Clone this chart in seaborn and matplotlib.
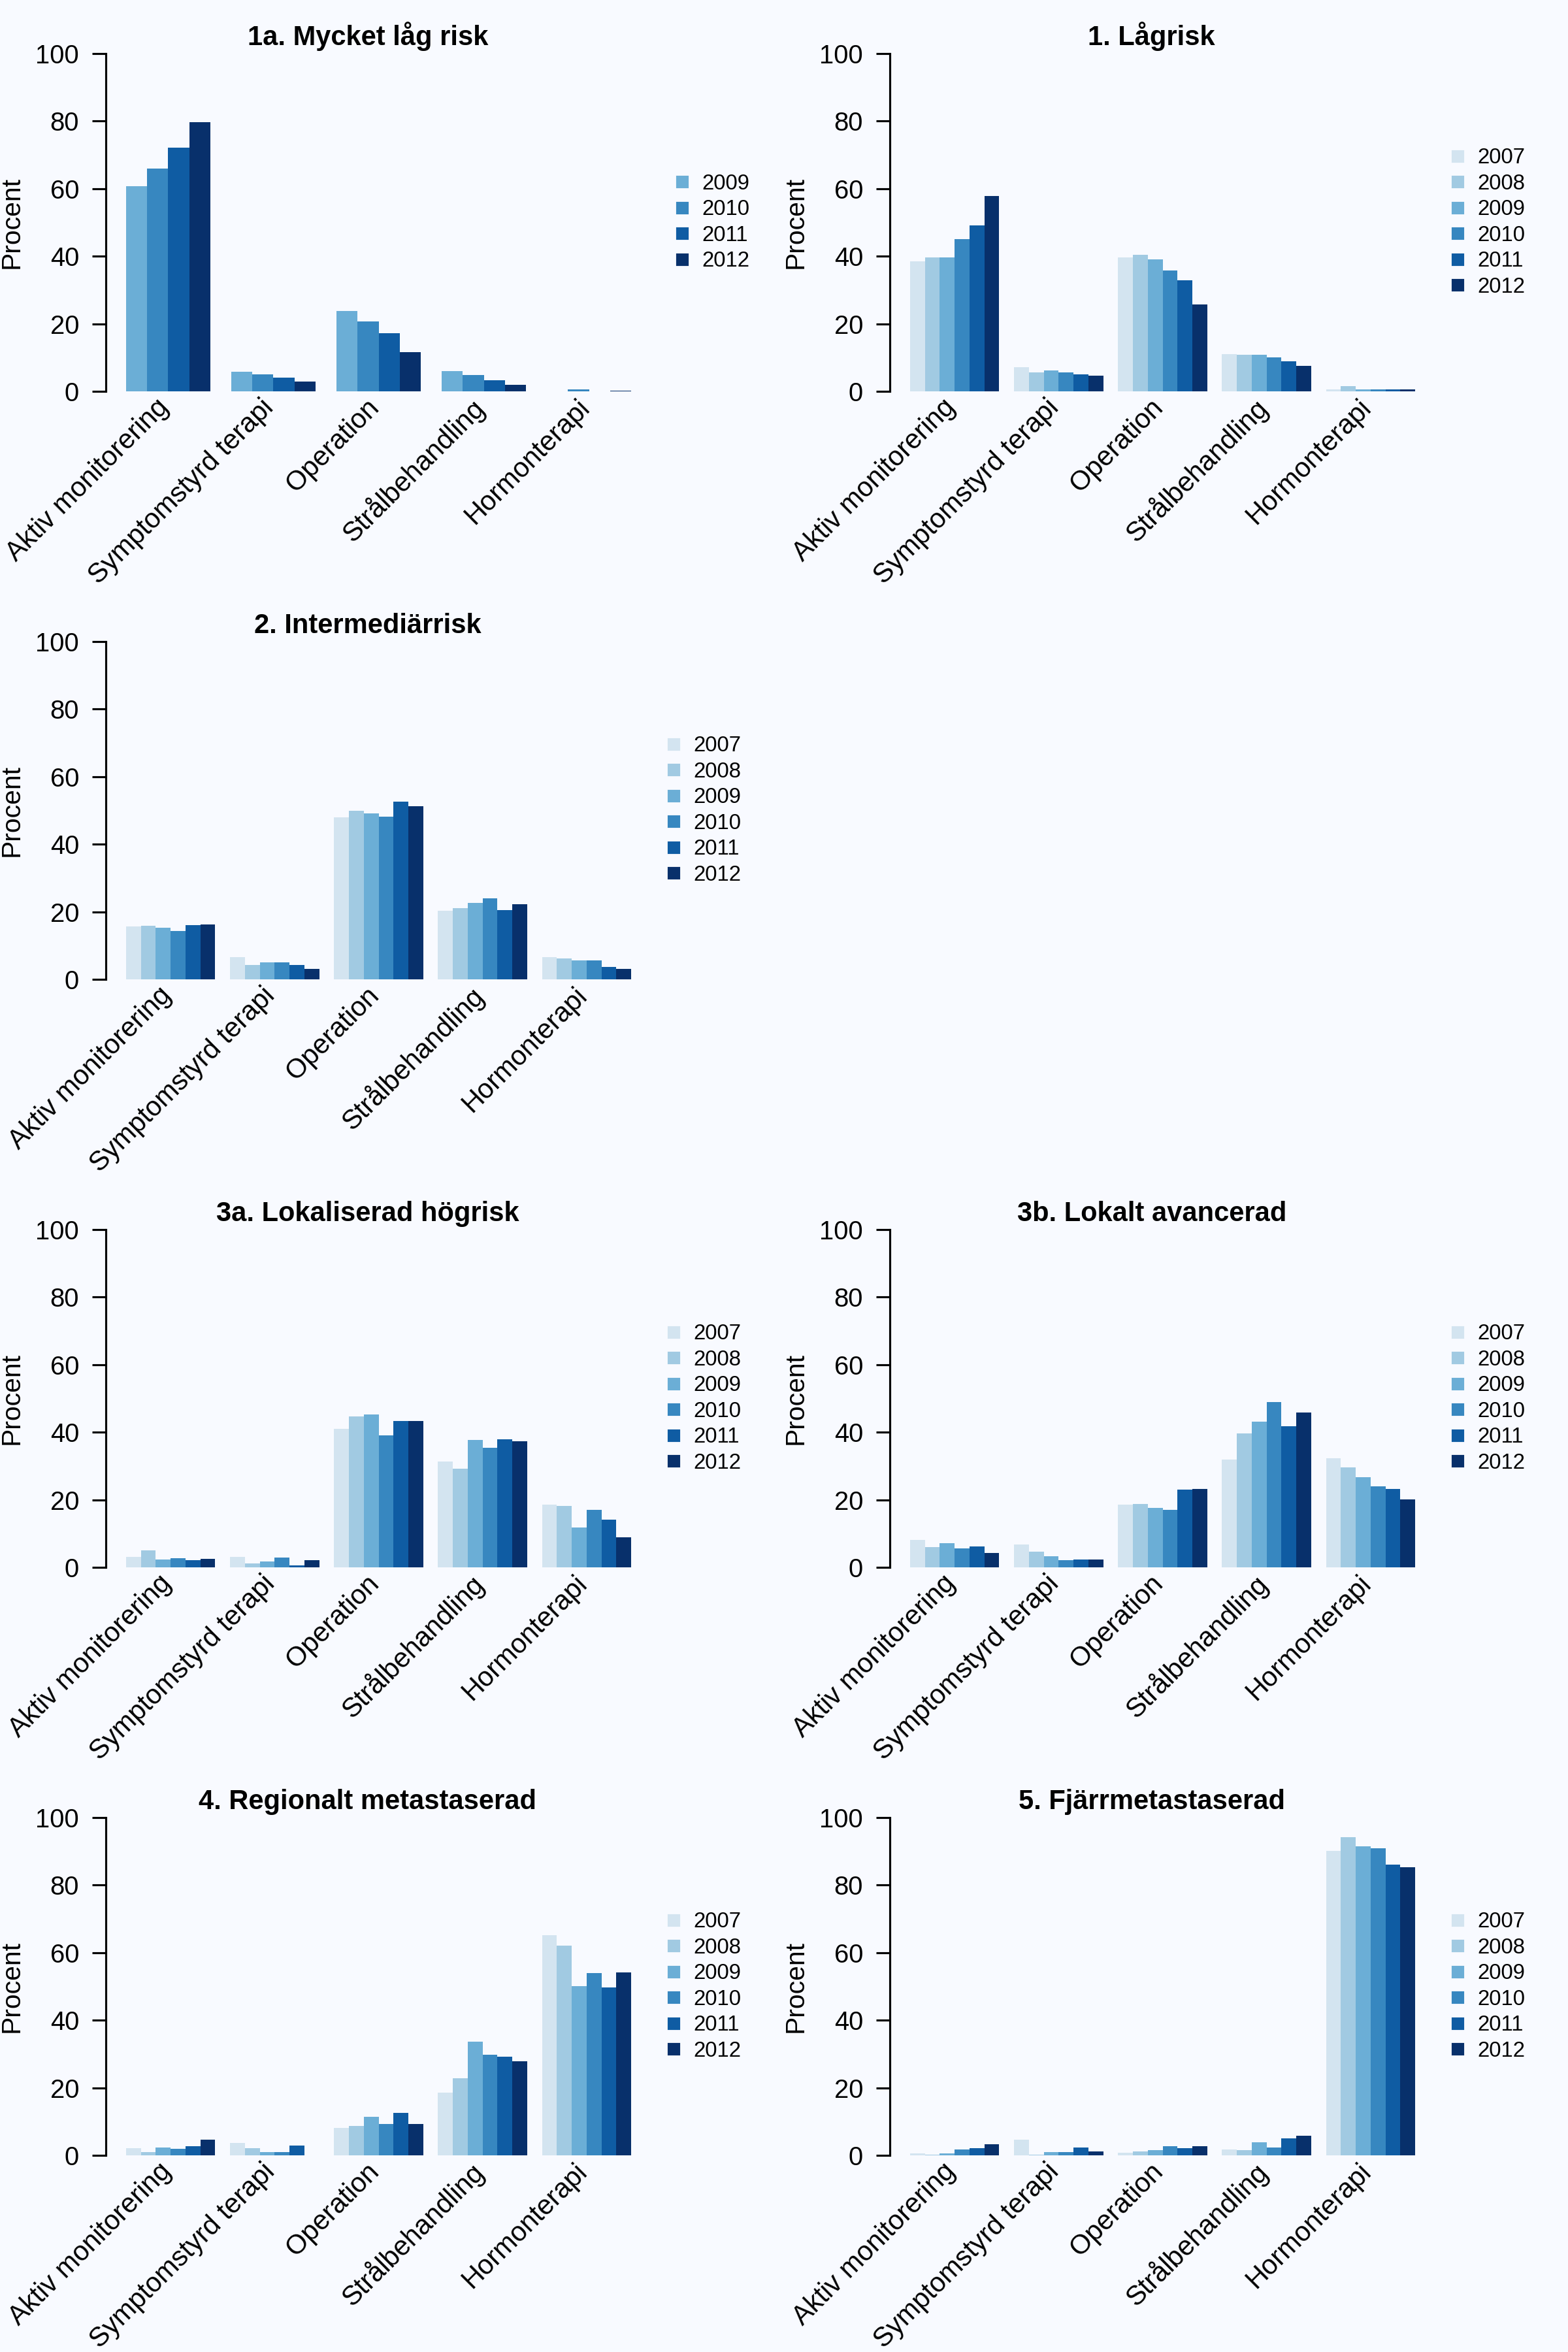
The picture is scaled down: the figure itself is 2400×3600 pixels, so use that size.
import matplotlib
matplotlib.use("Agg")
import matplotlib.pyplot as plt
import matplotlib.transforms as mtransforms
from matplotlib.lines import Line2D
import seaborn as sns
import pandas as pd

# --- data (percent per treatment, one row per treatment, one column per year) ---
TREATMENTS = ['Aktiv monitorering', 'Symptomstyrd terapi', 'Operation',
              'Strålbehandling', 'Hormonterapi']
YEARS_ALL = ['2007', '2008', '2009', '2010', '2011', '2012']
YEARS_1A = ['2009', '2010', '2011', '2012']
BLUES = ['#d3e4f0', '#a1cae2', '#6baed6', '#3787c0', '#0f5ca3', '#08306b']

mycket_lag = [  # 2009-2012 only
    [60.7, 66.0, 72.2, 79.7],
    [5.9, 5.1, 4.2, 2.9],
    [23.9, 20.7, 17.2, 11.7],
    [6.1, 4.9, 3.4, 1.9],
    [0.1, 0.6, 0.0, 0.3],
]
lagrisk = [
    [38.6, 39.7, 39.6, 45.0, 49.2, 57.8],
    [7.3, 5.6, 6.3, 5.6, 5.0, 4.7],
    [39.6, 40.4, 39.1, 35.8, 32.9, 25.8],
    [11.1, 10.8, 10.9, 10.2, 9.0, 7.6],
    [0.6, 1.6, 0.6, 0.6, 0.6, 0.6],
]
intermediar = [
    [15.7, 15.9, 15.3, 14.4, 16.0, 16.2],
    [6.7, 4.3, 5.0, 5.1, 4.3, 3.2],
    [48.0, 50.0, 49.1, 48.1, 52.7, 51.3],
    [20.3, 21.2, 22.6, 24.1, 20.6, 22.2],
    [6.7, 6.3, 5.6, 5.6, 3.8, 3.2],
]
lokal_hog = [
    [3.1, 5.1, 2.4, 2.8, 2.1, 2.6],
    [3.1, 1.3, 1.7, 2.9, 0.6, 2.1],
    [41.0, 44.6, 45.3, 39.0, 43.4, 43.4],
    [31.4, 29.2, 37.7, 35.4, 38.0, 37.3],
    [18.7, 18.2, 11.8, 17.1, 14.1, 9.0],
]
lokalt_avancerad = [
    [8.2, 6.1, 7.3, 5.7, 6.3, 4.4],
    [6.8, 4.6, 3.4, 2.2, 2.4, 2.4],
    [18.7, 18.8, 17.6, 17.1, 23.1, 23.3],
    [32.0, 39.7, 43.1, 48.9, 41.8, 45.9],
    [32.4, 29.6, 26.7, 24.0, 23.3, 20.1],
]
regionalt = [
    [2.1, 1.1, 2.3, 1.9, 2.7, 4.6],
    [3.8, 2.2, 1.0, 1.1, 3.0, 0.1],
    [8.2, 8.8, 11.4, 9.4, 12.7, 9.3],
    [18.6, 22.9, 33.6, 29.9, 29.3, 27.9],
    [65.2, 62.1, 50.1, 53.9, 49.7, 54.1],
]
fjarr = [
    [0.7, 0.3, 0.7, 1.7, 2.2, 3.3],
    [4.7, 0.3, 1.1, 1.1, 2.4, 1.3],
    [0.9, 1.2, 1.6, 2.7, 2.2, 2.8],
    [1.7, 1.6, 4.0, 2.4, 5.0, 5.9],
    [90.1, 94.2, 91.4, 90.8, 86.1, 85.2],
]

# (title, values, years, grid row, grid col)
PANELS = [
    ('1a. Mycket låg risk', mycket_lag, YEARS_1A, 0, 0),
    ('1. Lågrisk', lagrisk, YEARS_ALL, 0, 1),
    ('2. Intermediärrisk', intermediar, YEARS_ALL, 1, 0),
    ('3a. Lokaliserad högrisk', lokal_hog, YEARS_ALL, 2, 0),
    ('3b. Lokalt avancerad', lokalt_avancerad, YEARS_ALL, 2, 1),
    ('4. Regionalt metastaserad', regionalt, YEARS_ALL, 3, 0),
    ('5. Fjärrmetastaserad', fjarr, YEARS_ALL, 3, 1),
]

BG = '#f8faff'


def set_style():
    sns.set_style("ticks")
    plt.rcParams.update({
        'font.family': ['Liberation Sans', 'DejaVu Sans'],
        'figure.facecolor': BG,
        'axes.facecolor': BG,
        'savefig.facecolor': BG,
        'axes.linewidth': 0.75,
        'axes.edgecolor': 'black',
        'text.color': 'black',
        'axes.labelcolor': 'black',
        'xtick.color': 'black',
        'ytick.color': 'black',
    })


def to_long(values, years):
    rows = []
    for t, vals in zip(TREATMENTS, values):
        for y, v in zip(years, vals):
            rows.append({'Behandling': t, 'År': y, 'Procent': v})
    return pd.DataFrame(rows)


def plot_panel(fig, title, values, years, row, col):
    # panel cell is 1200 x 900 px of a 2400 x 3600 figure
    left = (col * 1200 + 162) / 2400
    bottom = 1 - (row * 900 + 620) / 3600
    ax = fig.add_axes([left, bottom, 835 / 2400, 559 / 3600])

    n = len(years)
    w = n / (n + 1)
    palette = BLUES[-n:]
    df = to_long(values, years)
    sns.barplot(data=df, x='Behandling', y='Procent', hue='År',
                order=TREATMENTS, hue_order=years, palette=palette,
                width=w, saturation=1, linewidth=0, errorbar=None,
                legend=False, ax=ax)

    pad = 0.04 * (len(TREATMENTS) - 1 + w)
    ax.set_xlim(-w / 2 - pad, len(TREATMENTS) - 1 + w / 2 + pad)
    ax.set_ylim(-4, 104)
    ax.set_yticks([0, 20, 40, 60, 80, 100])
    ax.spines['left'].set_bounds(0, 100)
    for s in ['top', 'right', 'bottom']:
        ax.spines[s].set_visible(False)
    ax.tick_params(axis='y', length=5, width=0.75, pad=4.8, labelsize=9.6)
    ax.tick_params(axis='x', length=0, pad=0)

    ax.set_xticks(range(len(TREATMENTS)))
    ax.set_xticklabels(TREATMENTS, rotation=45, ha='right', va='center',
                       rotation_mode='anchor', fontsize=10.0)
    shift = mtransforms.ScaledTranslation(-0.018, 0.007, fig.dpi_scale_trans)
    for lbl in ax.get_xticklabels():
        lbl.set_transform(lbl.get_transform() + shift)

    ax.set_xlabel('')
    ax.set_ylabel('Procent', fontsize=9.8)
    ax.yaxis.set_label_coords(-0.150, 0.5)
    ax.text(0.48, 0.986, title, transform=ax.transAxes, ha='center',
            va='baseline', fontsize=10, fontweight='bold')

    handles = [Line2D([], [], marker='s', linestyle='', markersize=3.6,
                      markerfacecolor=c, markeredgecolor=c) for c in palette]
    anchor_x = 1.025 if n == 6 else 1.041
    ax.legend(handles, years, loc='center left', bbox_to_anchor=(anchor_x, 0.5),
              frameon=False, fontsize=7.9, handlelength=0.8, handletextpad=0.52,
              labelspacing=0.26, borderpad=0, borderaxespad=0)
    return ax


set_style()
fig = plt.figure(figsize=(8, 12), dpi=300)
for title, values, years, r, c in PANELS:
    plot_panel(fig, title, values, years, r, c)

fig.savefig('out.png', dpi=300, facecolor=BG)
plt.close(fig)
